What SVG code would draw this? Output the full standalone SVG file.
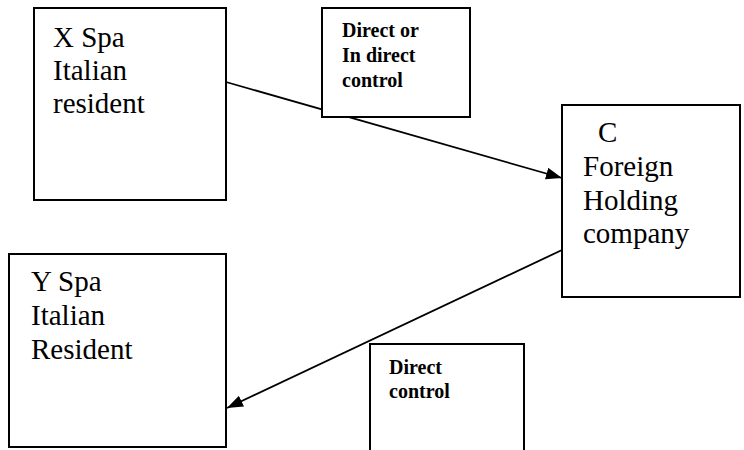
<svg xmlns="http://www.w3.org/2000/svg" width="744" height="450" viewBox="0 0 744 450">
<style>
.box{fill:#fff;stroke:#000;stroke-width:2}
.t{font-family:"Liberation Serif","Times New Roman",serif;font-size:29px;fill:#000}
.b{font-family:"Liberation Serif","Times New Roman",serif;font-size:20px;font-weight:bold;fill:#000}
.c{stroke:#000;stroke-width:1.8;fill:none}
</style>
<defs>
<marker id="ah" markerWidth="16" markerHeight="12" refX="16" refY="6" orient="auto" markerUnits="userSpaceOnUse">
<path d="M0,0 L16,6 L0,12 Z" fill="#000"/>
</marker>
</defs>
<g id="connectors">
<line class="c" x1="226" y1="82" x2="562" y2="178" marker-end="url(#ah)"/>
<line class="c" x1="562" y1="250" x2="227" y2="408" marker-end="url(#ah)"/>
</g>
<g id="xspa">
<rect class="box" x="34" y="8" width="192" height="192"/>
<text class="t" x="53" y="47">X Spa</text>
<text class="t" x="53" y="80">Italian</text>
<text class="t" x="53" y="113">resident</text>
</g>
<g id="label1">
<rect class="box" x="322" y="8" width="148" height="109"/>
<text class="b" x="342" y="37">Direct or</text>
<text class="b" x="342" y="62">In direct</text>
<text class="b" x="342" y="87">control</text>
</g>
<g id="c">
<rect class="box" x="562" y="105" width="178" height="192"/>
<text class="t" x="598" y="142">C</text>
<text class="t" x="583" y="176">Foreign</text>
<text class="t" x="583" y="210">Holding</text>
<text class="t" x="583" y="243">company</text>
</g>
<g id="yspa">
<rect class="box" x="9" y="254" width="217" height="193"/>
<text class="t" x="31" y="291">Y Spa</text>
<text class="t" x="31" y="325">Italian</text>
<text class="t" x="31" y="359">Resident</text>
</g>
<g id="label2">
<rect class="box" x="370" y="344" width="154" height="120"/>
<text class="b" x="389" y="374">Direct</text>
<text class="b" x="389" y="398">control</text>
</g>
</svg>
